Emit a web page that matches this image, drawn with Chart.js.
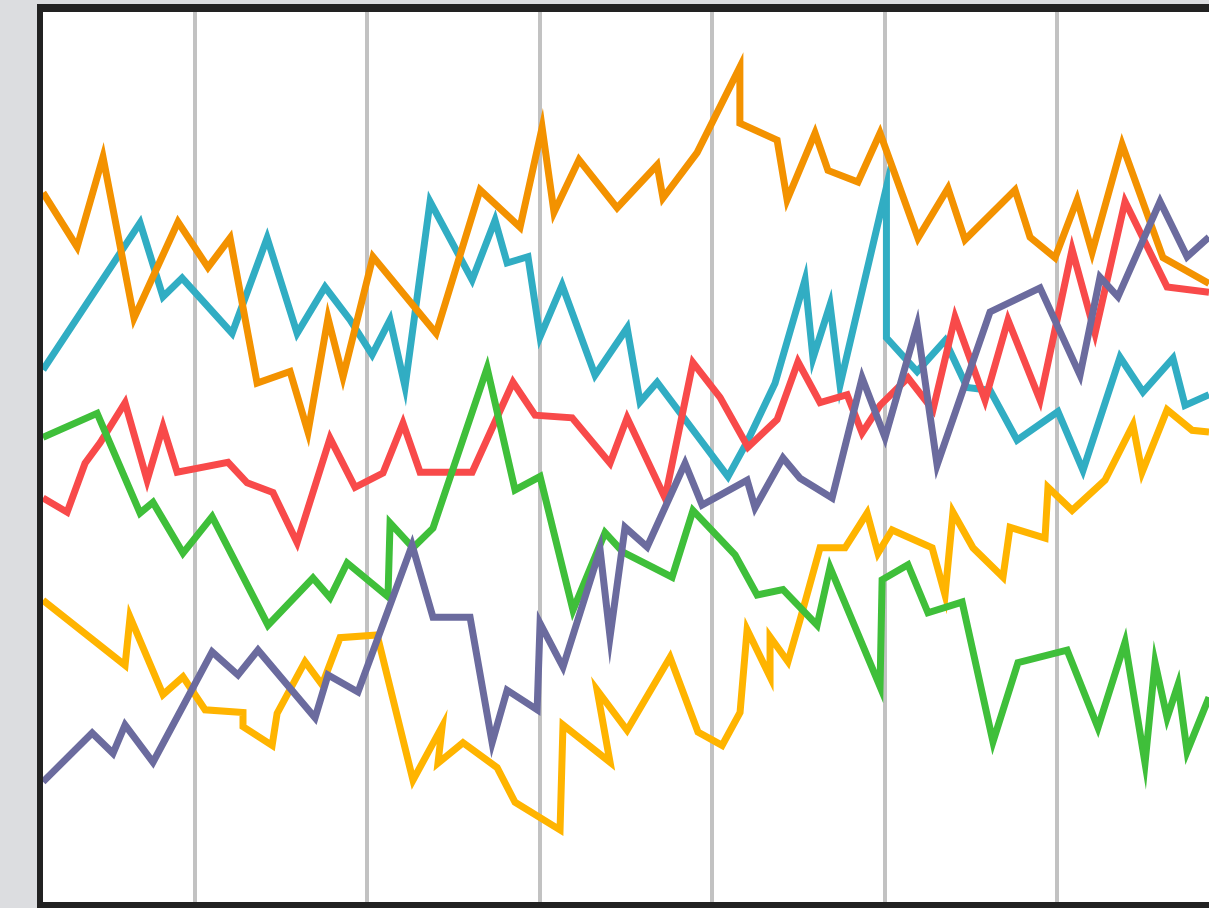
<!DOCTYPE html>
<html>
<head>
<meta charset="utf-8">
<script src="https://cdn.jsdelivr.net/npm/chart.js@4"></script>
<style>
  html, body { margin: 0; padding: 0; background: #dcdde0; overflow: hidden; }
  #frame {
    position: absolute; left: 37px; top: 4px; width: 1200px; height: 890px;
    border-left: 6px solid #222; border-top: 8px solid #222; border-bottom: 6px solid #222;
    background: #fff;
  }
  #wrap { position: absolute; left: 0; top: 0; width: 1166px; height: 890px; }
</style>
</head>
<body>
<div id="frame"><div id="wrap"><canvas id="chart"></canvas></div></div>
<script>
// x in days (grid every 10), y on a 0-100 scale
const gridDays = [10, 20, 30, 40, 50, 60];

const orangeX = [1.18, 3.16, 4.66, 6.46, 9.01, 10.75, 12.03, 13.6, 15.51, 16.55, 17.71, 18.58, 20.32, 23.98, 26.53, 28.85, 30.13, 30.82, 32.27, 34.48, 36.8, 37.14, 39.12, 41.6, 41.6, 43.76, 44.34, 45.96, 46.71, 48.45, 49.73, 51.93, 53.67, 54.66, 57.56, 58.43, 59.88, 61.16, 62.03, 63.77, 66.14, 68.81];
const orangeY = [79.7, 73.6, 83.7, 65.6, 76.4, 71.3, 74.6, 58.3, 59.6, 52.8, 65.6, 59.0, 72.5, 63.9, 80.0, 75.8, 87.0, 77.5, 83.4, 78.0, 82.8, 79.1, 84.2, 93.8, 87.5, 85.6, 78.9, 86.4, 82.2, 80.9, 86.4, 74.6, 80.2, 74.4, 80.0, 74.7, 72.4, 78.9, 73.0, 85.1, 72.4, 69.5];

const tealX = [1.18, 6.81, 8.14, 9.25, 12.15, 14.18, 15.92, 17.54, 18.99, 20.27, 21.31, 22.18, 23.63, 26.07, 27.4, 28.1, 29.31, 30.01, 31.29, 33.2, 35.06, 35.81, 36.8, 40.91, 42.07, 43.64, 45.38, 45.84, 46.83, 47.41, 50.1, 50.1, 51.88, 53.5, 54.78, 56.11, 57.68, 60.05, 61.5, 63.65, 64.98, 66.72, 67.42, 68.81];
const tealY = [59.8, 76.3, 68.0, 70.1, 63.9, 74.6, 63.9, 69.1, 65.4, 61.5, 65.4, 57.9, 78.7, 69.9, 76.6, 71.8, 72.5, 63.5, 69.3, 59.2, 64.5, 56.2, 58.4, 47.8, 51.9, 58.3, 69.9, 61.1, 67.1, 58.1, 80.3, 63.4, 59.6, 63.1, 57.8, 57.5, 51.9, 55.1, 48.5, 61.2, 57.3, 61.1, 55.8, 57.0];

const redX = [1.18, 2.58, 3.62, 4.49, 5.94, 7.22, 8.14, 8.96, 11.91, 13.02, 14.52, 15.92, 17.83, 19.28, 20.9, 22.06, 23.05, 26.07, 28.44, 29.72, 31.87, 34.07, 35.06, 37.26, 38.88, 40.45, 42.07, 43.76, 44.97, 46.25, 47.82, 48.69, 49.73, 51.35, 52.8, 54.08, 55.82, 57.15, 59.01, 60.87, 62.2, 63.94, 66.38, 68.81];
const redY = [45.4, 43.8, 49.3, 51.6, 56.1, 47.4, 53.4, 48.3, 49.4, 47.1, 46.0, 40.4, 52.1, 46.6, 48.2, 53.8, 48.3, 48.3, 58.4, 54.7, 54.4, 49.3, 54.4, 45.4, 60.6, 56.7, 51.1, 54.2, 60.7, 56.1, 57.0, 52.7, 55.8, 58.9, 55.3, 65.7, 56.4, 65.4, 56.4, 73.3, 63.9, 78.7, 69.1, 68.5];

const greenX = [1.18, 4.32, 6.81, 7.56, 9.3, 10.99, 14.23, 16.84, 17.83, 18.82, 21.19, 21.31, 22.64, 23.8, 26.94, 28.56, 30.01, 31.92, 33.78, 34.82, 37.67, 38.88, 41.32, 42.6, 44.1, 46.08, 46.83, 49.73, 49.85, 51.35, 52.51, 54.49, 56.28, 57.73, 60.58, 62.37, 63.94, 65.1, 65.68, 66.38, 67.01, 67.54, 68.81];
const greenY = [52.2, 54.9, 43.7, 44.9, 39.2, 43.3, 31.1, 36.4, 34.2, 38.1, 34.3, 42.6, 39.8, 42.0, 60.0, 46.3, 47.8, 32.8, 41.5, 39.3, 36.5, 44.0, 39.0, 34.5, 35.1, 31.1, 37.6, 24.2, 36.2, 37.9, 32.5, 33.7, 18.0, 26.9, 28.3, 19.6, 29.2, 15.6, 26.9, 20.7, 24.4, 16.9, 23.0];

const purpleX = [1.18, 4.03, 5.24, 5.94, 7.56, 10.99, 12.49, 13.65, 16.96, 17.71, 19.45, 22.59, 23.8, 25.95, 27.23, 28.1, 29.84, 30.01, 31.34, 33.49, 34.07, 34.94, 36.22, 38.42, 39.41, 42.02, 42.48, 44.1, 45.09, 46.95, 48.69, 50.02, 51.88, 53.04, 56.11, 59.01, 61.33, 62.49, 63.53, 65.97, 67.54, 68.81];
const purpleY = [13.5, 19.0, 16.7, 19.9, 15.7, 28.1, 25.5, 28.3, 20.7, 25.5, 23.6, 40.1, 32.0, 32.0, 17.9, 23.8, 21.6, 31.3, 26.4, 39.6, 29.8, 42.1, 39.9, 49.3, 44.6, 47.4, 44.3, 49.9, 47.6, 45.4, 58.9, 52.2, 64.8, 49.1, 66.3, 69.0, 59.2, 70.2, 68.0, 78.7, 72.5, 74.7];

const yellowX = [1.18, 5.94, 6.23, 8.14, 9.3, 10.58, 12.78, 12.78, 14.47, 14.76, 16.38, 17.37, 18.41, 20.56, 22.64, 24.33, 24.09, 25.54, 27.52, 28.56, 31.17, 31.34, 34.07, 33.32, 35.06, 37.55, 39.17, 40.57, 41.61, 42.02, 43.35, 43.35, 44.39, 45.09, 46.25, 47.7, 48.98, 49.61, 50.43, 52.75, 53.5, 53.96, 55.12, 56.86, 57.27, 59.3, 59.47, 60.87, 62.78, 64.4, 64.93, 66.38, 67.83, 68.81];
const yellowY = [33.9, 26.6, 32.0, 23.3, 25.3, 21.6, 21.3, 19.7, 17.6, 21.2, 27.0, 24.4, 29.7, 30.0, 13.7, 19.7, 15.6, 17.9, 15.1, 11.2, 8.1, 19.9, 15.7, 23.8, 19.3, 27.5, 19.1, 17.6, 21.3, 30.6, 25.3, 29.8, 27.0, 31.7, 39.8, 39.8, 43.7, 39.2, 41.8, 39.8, 34.5, 43.8, 39.8, 36.5, 42.1, 40.9, 46.6, 44.0, 47.4, 53.6, 48.3, 55.3, 53.0, 52.8];

const toPoints = (xs, ys) => xs.map((x, i) => ({ x: x, y: ys[i] }));

// first dataset ends up on top
const series = [
    { name: 'purple', xs: purpleX, ys: purpleY, color: '#6b6b9e' },
    { name: 'orange', xs: orangeX, ys: orangeY, color: '#f39200' },
    { name: 'green', xs: greenX, ys: greenY, color: '#3fbf3a' },
    { name: 'red', xs: redX, ys: redY, color: '#f84a4a' },
    { name: 'teal', xs: tealX, ys: tealY, color: '#31adc3' },
    { name: 'yellow', xs: yellowX, ys: yellowY, color: '#ffb400' }
];

new Chart(document.getElementById('chart'), {
    type: 'line',
    data: {
        datasets: series.map(s => ({
            label: s.name,
            data: toPoints(s.xs, s.ys),
            borderColor: s.color,
            borderWidth: 7,
            pointRadius: 0,
            tension: 0,
            fill: false
        }))
    },
    options: {
        responsive: true,
        maintainAspectRatio: false,
        animation: false,
        layout: { padding: 0 },
        plugins: { legend: { display: false }, tooltip: { enabled: false } },
        scales: {
            x: {
                type: 'linear',
                min: 1.18,
                max: 68.81,
                afterBuildTicks: axis => { axis.ticks = gridDays.map(v => ({ value: v })); },
                ticks: { display: false },
                grid: { color: '#c2c2c2', lineWidth: 4, drawTicks: false },
                border: { display: false }
            },
            y: { display: false, min: 0, max: 100 }
        }
    }
});
</script>
</body>
</html>
